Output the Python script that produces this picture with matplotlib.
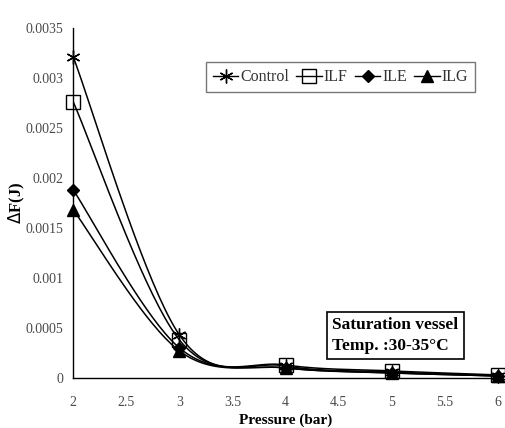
import numpy as np
import matplotlib
matplotlib.use("Agg")
import matplotlib.pyplot as plt

pressure = [2, 3, 4, 5, 6]
control = [0.00321, 0.00043, 0.00012, 0.00006, 0.00002]
ilf = [0.00276, 0.00038, 0.00013, 0.00007, 0.00003]
ile = [0.00188, 0.00030, 0.00010, 0.00005, 0.00002]
ilg = [0.00168, 0.00027, 0.00010, 0.00005, 0.00002]

xticks = [2, 2.5, 3, 3.5, 4, 4.5, 5, 5.5, 6]
xtick_labels = ["2", "2.5", "3", "3.5", "4", "4.5", "5", "5.5", "6"]
yticks = [0, 0.0005, 0.001, 0.0015, 0.002, 0.0025, 0.003, 0.0035]
ytick_labels = ["0", "0.0005", "0.001", "0.0015", "0.002", "0.0025", "0.003", "0.0035"]


def smooth(x, y, n=40):
    # excel-like smoothed line (catmull-rom through the points)
    x = np.asarray(x, float)
    y = np.asarray(y, float)
    px = np.concatenate([[x[0]], x, [x[-1]]])
    py = np.concatenate([[y[0]], y, [y[-1]]])
    xs, ys = [], []
    t = np.linspace(0, 1, n)
    for i in range(1, len(px) - 2):
        p0, p1, p2, p3 = [np.array([px[j], py[j]]) for j in range(i - 1, i + 3)]
        c1 = p1 + (p2 - p0) / 6
        c2 = p2 - (p3 - p1) / 6
        b = ((1 - t) ** 3)[:, None] * p1 + (3 * (1 - t) ** 2 * t)[:, None] * c1 \
            + (3 * (1 - t) * t ** 2)[:, None] * c2 + (t ** 3)[:, None] * p2
        xs.extend(b[:, 0])
        ys.extend(b[:, 1])
    return xs, ys


serif = "Liberation Serif"
fig = plt.figure(figsize=(5.05, 4.28), dpi=100)
ax = fig.add_axes([0.145, 0.117, 0.841, 0.818])

series = [
    ("Control", control, dict(marker=(6, 2, 0), markersize=10, markeredgewidth=1.0)),
    ("ILF", ilf, dict(marker="s", markersize=10, markerfacecolor="none", markeredgewidth=1.0)),
    ("ILE", ile, dict(marker="D", markersize=6)),
    ("ILG", ilg, dict(marker="^", markersize=8)),
]

for name, vals, mk in series:
    sx, sy = smooth(pressure, vals)
    ax.plot(sx, sy, color="black", lw=1.1)
    ax.plot(pressure, vals, linestyle="none", color="black", clip_on=False, **mk)
    # legend handle
    ax.plot([], [], color="black", lw=1.0, label=name, **mk)

ax.set_xlim(2, 6)
ax.set_ylim(0, 0.0035)
for s in ["top", "right"]:
    ax.spines[s].set_visible(False)
ax.spines["left"].set_linewidth(1.0)
ax.spines["bottom"].set_linewidth(1.0)
ax.plot(1, 0, ">k", transform=ax.get_yaxis_transform(), clip_on=False, markersize=6)
ax.plot(0, 1, "^k", transform=ax.get_xaxis_transform(), clip_on=False, markersize=6)

ax.set_xticks(xticks, xtick_labels)
ax.set_yticks(yticks, ytick_labels)
ax.tick_params(axis="y", length=0, labelsize=10, labelcolor="#4a4a4a", pad=7)
ax.tick_params(axis="x", length=0, labelsize=10, labelcolor="#4a4a4a", pad=13)
for lab in ax.get_xticklabels() + ax.get_yticklabels():
    lab.set_fontfamily(serif)

ax.set_xlabel("Pressure (bar)", fontfamily=serif, fontweight="bold", fontsize=11, labelpad=3)
fig.text(0.033, 0.525, r"$\Delta$F(J)", rotation=90, ha="center", va="center",
         fontfamily=serif, fontweight="bold", fontsize=12)

leg = ax.legend(loc="upper left", bbox_to_anchor=(0.293, 0.925), ncol=4, frameon=True,
                fancybox=False, edgecolor="#555555", handlelength=1.6, handletextpad=0.12,
                columnspacing=0.45, borderpad=0.45, prop=dict(family=serif, size=11.5))
leg.get_frame().set_linewidth(1.0)
for t in leg.get_texts():
    t.set_color("#333333")

ax.text(0.61, 0.08, "Saturation vessel\nTemp. :30-35\u00b0C", transform=ax.transAxes,
        fontfamily=serif, fontweight="bold", fontsize=12.5, linespacing=1.4,
        bbox=dict(boxstyle="square,pad=0.3", facecolor="white", edgecolor="black", lw=1.2))

fig.savefig("out.png", dpi=100)
